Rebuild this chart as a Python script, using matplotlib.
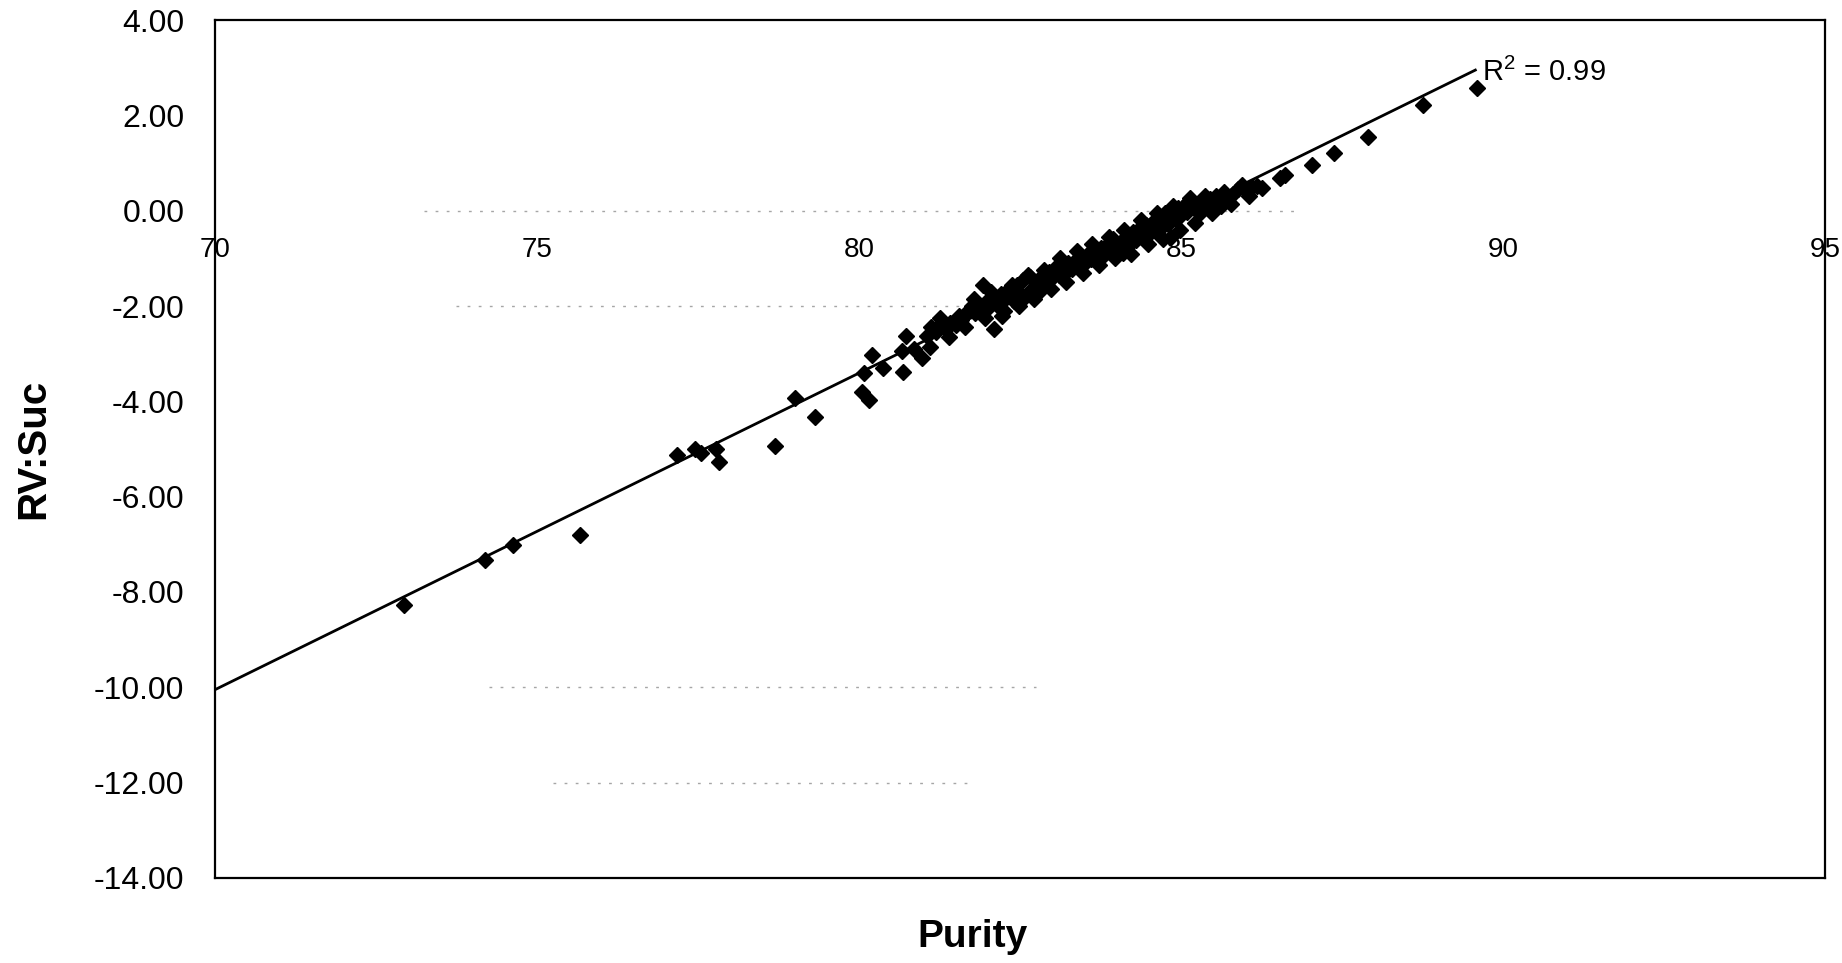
"""RV:Suc vs Purity scatter with linear trend line."""

import matplotlib

matplotlib.use("Agg")
import matplotlib.pyplot as plt

plt.rcParams["font.family"] = ["Liberation Sans", "DejaVu Sans"]
plt.rcParams["axes.unicode_minus"] = False
plt.rcParams["mathtext.fontset"] = "custom"
plt.rcParams["mathtext.rm"] = "Liberation Sans"
plt.rcParams["mathtext.it"] = "Liberation Sans"

# Data (purity %, RV:Suc)
purity = [
    72.93, 74.19, 74.63, 75.67, 77.17, 77.45, 77.55, 77.78, 77.83, 78.70,
    79.00, 79.32, 80.05, 80.15, 80.08, 80.20, 80.38, 80.68, 80.73, 80.66,
    80.98, 80.85,
    81.05, 81.12, 81.20, 81.28, 81.35, 81.42, 81.50, 81.58, 81.70, 81.75,
    81.80, 81.85, 81.90, 81.93, 81.98, 82.02, 82.08, 82.10, 82.15, 82.20,
    82.25, 82.30, 82.35, 82.40, 82.45, 82.50, 82.55, 82.60, 82.65, 82.70,
    82.75, 82.80, 82.85, 82.90, 82.95, 83.00, 83.05, 83.10, 83.15, 83.20,
    83.25, 83.30, 83.35, 83.40, 83.45, 83.50, 83.55, 83.60, 83.65, 83.70,
    83.75, 83.80, 83.85, 83.90, 83.95, 84.00, 84.05, 84.10, 84.15, 84.20,
    84.25, 84.30, 84.35, 84.40, 84.45, 84.50, 84.55, 84.60, 84.65, 84.70,
    84.75, 84.80, 84.85, 84.90, 84.95, 85.00, 85.05, 85.10, 85.14, 85.20,
    85.25, 85.30, 85.35, 85.40, 85.45, 85.50, 85.55, 85.60, 85.66, 85.72,
    85.80, 85.94, 86.00, 86.10, 86.25,
    81.10, 81.25, 81.40, 81.55, 81.65, 81.78, 81.95, 82.05, 82.22, 82.38,
    82.48, 82.62, 82.72, 82.88, 82.98, 83.12, 83.22, 83.38, 83.48, 83.62,
    83.72, 83.88, 83.98, 84.12, 84.22, 84.38, 84.48, 84.62, 84.72, 84.88,
    84.98, 85.12, 85.22, 85.38, 85.48, 85.62, 85.78, 85.88, 86.05, 86.18,
    86.54, 86.61, 87.03, 87.37, 87.91, 88.75, 89.59,
]
rv_suc = [
    -8.27, -7.33, -7.01, -6.81, -5.12, -5.00, -5.08, -5.01, -5.27, -4.93,
    -3.92, -4.32, -3.80, -3.98, -3.40, -3.03, -3.30, -3.38, -2.62, -2.95,
    -3.10, -2.90,
    -2.62, -2.45, -2.55, -2.38, -2.48, -2.36, -2.40, -2.30, -2.10, -2.00,
    -2.15, -1.95, -2.08, -1.56, -1.90, -2.02, -1.85, -2.48, -1.98, -1.75,
    -2.10, -1.82, -1.62, -1.90, -1.55, -1.72, -1.45, -1.80, -1.40, -1.62,
    -1.50, -1.70, -1.35, -1.55, -1.28, -1.42, -1.20, -1.35, -1.15, -1.30,
    -1.10, -1.22, -1.05, -1.18, -0.95, -1.12, -0.90, -1.02, -0.85, -0.98,
    -0.78, -0.92, -0.72, -0.85, -0.60, -0.80, -0.68, -0.88, -0.55, -0.72,
    -0.45, -0.62, -0.38, -0.55, -0.30, -0.48, -0.25, -0.42, -0.20, -0.35,
    -0.05, -0.28, -0.55, -0.15, 0.05, -0.10, 0.10, -0.02, 0.26, 0.05,
    0.15, -0.05, 0.18, 0.08, 0.25, 0.12, 0.30, 0.20, 0.40, 0.28,
    0.35, 0.54, 0.45, 0.50, 0.47,
    -2.85, -2.25, -2.65, -2.20, -2.45, -1.85, -2.25, -1.70, -2.20, -1.55,
    -2.00, -1.35, -1.85, -1.25, -1.65, -1.00, -1.50, -0.85, -1.30, -0.70,
    -1.15, -0.55, -1.00, -0.40, -0.90, -0.20, -0.70, -0.05, -0.60, 0.10,
    -0.40, 0.20, -0.25, 0.30, -0.05, 0.10, 0.15, 0.45, 0.30, 0.52,
    0.68, 0.75, 0.96, 1.20, 1.54, 2.22, 2.57,
]

# Linear trend line end points as drawn in the reference
trend_x = [70.0, 89.57]
trend_y = [-10.05, 2.95]
r2_label = "R$^2$ = 0.99"

x_ticks = [70, 75, 80, 85, 90, 95]
y_ticks = [4, 2, 0, -2, -4, -6, -8, -10, -12, -14]

# faint scan remnants of gridlines: (y, xmin frac, xmax frac)
faint_lines = [(0, 0.13, 0.67), (-2, 0.15, 0.50), (-10, 0.17, 0.51), (-12, 0.21, 0.47)]

fig = plt.figure(figsize=(18.42, 9.63), dpi=100)
ax = fig.add_axes([0.1167, 0.0883, 0.8741, 0.8909])

for yv, x0, x1 in faint_lines:
    ax.axhline(yv, xmin=x0, xmax=x1, color="0.65", lw=1.0,
               ls=(0, (2, 6)), zorder=1)

ax.plot(trend_x, trend_y, color="black", lw=2.0, zorder=2)
ax.plot(purity, rv_suc, ls="none", marker="D", ms=8.5, color="black", zorder=3)

ax.text(trend_x[1] + 0.1, trend_y[1] - 0.05, r2_label, fontsize=21,
        ha="left", va="center")

ax.set_xlim(70, 95)
ax.set_ylim(-14, 4)
ax.set_yticks(y_ticks)
ax.set_yticklabels([f"{v:.2f}" for v in y_ticks])
ax.tick_params(axis="y", length=0, pad=22, labelsize=23)
ax.set_xticks([])

# x tick labels sit under the y=0 crossing
for xv in x_ticks:
    ax.text(xv, -0.55, str(xv), fontsize=20, ha="center", va="top")

for side in ["left", "right", "top", "bottom"]:
    ax.spines[side].set_linewidth(1.6)
    ax.spines[side].set_color("black")

fig.text(0.0179, 0.5337, "RV:Suc", rotation=90, fontsize=29,
         fontweight="bold", ha="center", va="center")
fig.text(0.528, 0.027, "Purity", fontsize=28, fontweight="bold",
         ha="center", va="center")

fig.savefig("out.png", dpi=100)
